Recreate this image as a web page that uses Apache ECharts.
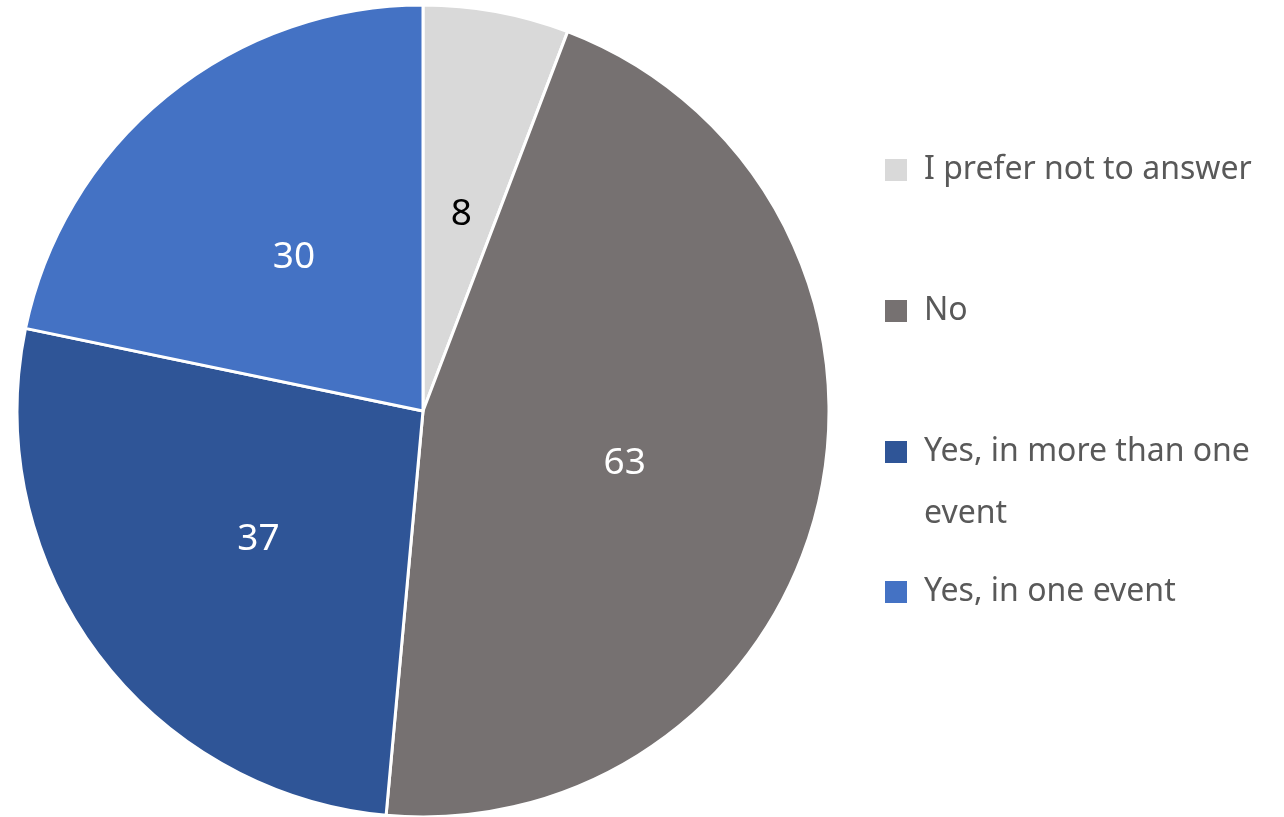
<!DOCTYPE html>
<html>
<head>
<meta charset="utf-8">
<script src="https://cdn.jsdelivr.net/npm/echarts@6/dist/echarts.min.js"></script>
<style>
  html, body { margin: 0; padding: 0; background: #ffffff; }
  #chart { width: 1284px; height: 817px; }
</style>
</head>
<body>
<div id="chart"></div>
<script>
// Survey answers, drawn clockwise from 12 o'clock
const categories = ['I prefer not to answer', 'No', 'Yes, in more than one event', 'Yes, in one event'];
const counts = [8, 63, 37, 30];
const sliceColors = ['#D9D9D9', '#767171', '#2F5597', '#4472C4'];
const labelColors = ['#000000', '#ffffff', '#ffffff', '#ffffff'];
// Legend text; the long entry wraps onto a second line under its first
const legendLines = [['I prefer not to answer'], ['No'], ['Yes, in more than one', 'event'], ['Yes, in one event']];
// Vertical centre of each legend swatch
const legendCentres = [170, 311, 452, 592];

const FONT = '"Noto Sans", "Open Sans", sans-serif';
const LEGEND_LH = 62;

const chart = echarts.init(document.getElementById('chart'), null, { renderer: 'canvas' });

// The legend centres its text block on the swatch; an empty leading line
// per extra line keeps the first line level with the swatch.
const legends = categories.map((name, i) => {
  const lines = legendLines[i];
  const extra = lines.length - 1;
  const text = '\n'.repeat(extra) + lines.join('\n');
  const blockHalf = (LEGEND_LH * (lines.length + extra)) / 2;
  return {
    show: true,
    orient: 'vertical',
    left: 883,
    top: Math.round(legendCentres[i] - blockHalf),
    padding: 0,
    itemWidth: 24,
    itemHeight: 24,
    icon: 'rect',
    selectedMode: false,
    data: [name],
    formatter: () => text,
    textStyle: {
      fontFamily: FONT,
      fontSize: 32,
      color: '#595959',
      lineHeight: LEGEND_LH,
      padding: [0, 0, 0, 11]
    }
  };
});

chart.setOption({
  animation: false,
  backgroundColor: '#ffffff',
  legend: legends,
  series: [{
    type: 'pie',
    center: [423, 411],
    radius: [0, 406],
    startAngle: 90,
    clockwise: true,
    avoidLabelOverlap: false,
    itemStyle: { borderColor: '#ffffff', borderWidth: 3 },
    label: {
      show: true,
      position: 'inside',
      fontFamily: FONT,
      fontSize: 37,
      offset: [1, 6],
      formatter: '{c}'
    },
    labelLine: { show: false },
    emphasis: { disabled: true },
    data: categories.map((name, i) => ({
      name: name,
      value: counts[i],
      itemStyle: { color: sliceColors[i] },
      label: { color: labelColors[i] }
    }))
  }]
});
</script>
</body>
</html>
